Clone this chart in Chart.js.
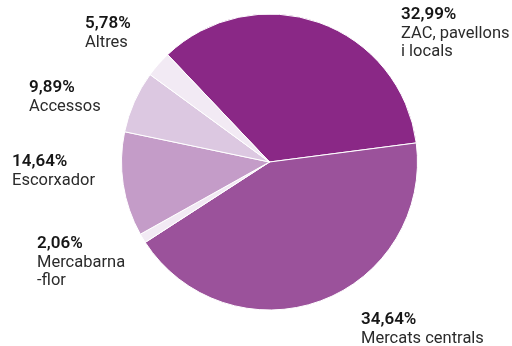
<!DOCTYPE html>
<html>
<head>
<meta charset="utf-8">
<script src="https://cdn.jsdelivr.net/npm/chart.js@4"></script>
<style>
  html, body { margin: 0; padding: 0; background: #fff; }
  #wrap { width: 512px; height: 346px; }
</style>
</head>
<body>
<div id="wrap"><canvas id="pieChart" width="512" height="346"></canvas></div>
<script>
// categories, clockwise from the top-left
const categories = ['ZAC, pavellons i locals', 'Mercats centrals', 'Mercabarna-flor', 'Escorxador', 'Accessos', 'Altres'];
// slice sizes as drawn in the picture (share of the circle, %)
const sliceValues = [35.03, 42.92, 1.03, 11.39, 6.78, 2.86];
// percentages printed next to each slice
const pctLabels = ['32,99%', '34,64%', '2,06%', '14,64%', '9,89%', '5,78%'];
// name lines printed under each percentage
const nameLines = [
    ['ZAC, pavellons', 'i locals'],
    ['Mercats centrals'],
    ['Mercabarna', '-flor'],
    ['Escorxador'],
    ['Accessos'],
    ['Altres']
];
const sliceColors = ['#8a2886', '#9b529b', '#f2eaf4', '#c49cc8', '#dcc8e1', '#f2eaf4'];

// where each label block starts (left edge, baseline of the percentage)
const labelAnchors = [[401, 19], [361, 324], [37, 248], [12, 166], [29, 92], [85, 28]];

const FONT = 'Roboto, "Liberation Sans", sans-serif';

const outsideLabels = {
    id: 'outsideLabels',
    afterDraw(chart) {
        const c = chart.ctx;
        c.save();
        c.textAlign = 'left';
        c.textBaseline = 'alphabetic';
        pctLabels.forEach((pct, i) => {
            const [x, y] = labelAnchors[i];
            c.fillStyle = '#161616';
            c.font = '600 17px ' + FONT;
            c.fillText(pct, x, y);
            c.fillStyle = '#2b2b2b';
            c.font = '400 16.5px ' + FONT;
            nameLines[i].forEach((line, j) => {
                c.fillText(line, x, y + 18.5 * (j + 1));
            });
        });
        c.restore();
    }
};

const ctx = document.getElementById('pieChart').getContext('2d');
new Chart(ctx, {
    type: 'pie',
    data: {
        labels: categories,
        datasets: [{
            data: sliceValues,
            backgroundColor: sliceColors,
            borderColor: '#ffffff',
            borderWidth: 1
        }]
    },
    options: {
        responsive: false,
        animation: false,
        rotation: -43.5,
        layout: { padding: { top: 13, bottom: 35, left: 121, right: 94 } },
        plugins: {
            legend: { display: false },
            tooltip: { enabled: false }
        }
    },
    plugins: [outsideLabels]
});
</script>
</body>
</html>
